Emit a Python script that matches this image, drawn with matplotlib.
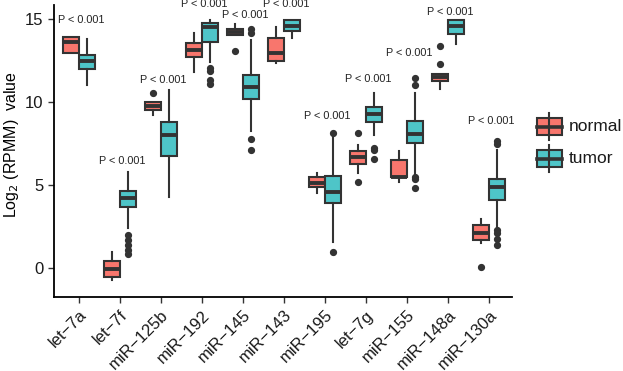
import numpy as np
import matplotlib
matplotlib.use("Agg")
from matplotlib import pyplot as plt
from matplotlib.patches import Rectangle

plt.rcParams['font.family'] = ['Liberation Sans', 'DejaVu Sans']

# categorias (miRNA)
mirnas = ['let\u22127a', 'let\u22127f', 'miR\u2212125b', 'miR\u2212192', 'miR\u2212145', 'miR\u2212143',
          'miR\u2212195', 'let\u22127g', 'miR\u2212155', 'miR\u2212148a', 'miR\u2212130a']

# grupo normal
normal_lo = [12.95, -0.70, 9.24, 11.79, 14.02, 12.35, 4.51, 5.72, 5.21, 10.78, 1.51]
normal_q1 = [12.95, -0.50, 9.54, 12.69, 14.02, 12.49, 4.91, 6.28, 5.51, 11.24, 1.67]
normal_med = [13.60, -0.06, 9.78, 13.11, 14.20, 12.95, 5.11, 6.68, 5.51, 11.51, 2.15]
normal_q3 = [13.90, 0.46, 9.98, 13.53, 14.40, 13.84, 5.51, 7.08, 6.52, 11.71, 2.63]
normal_hi = [13.90, 0.96, 9.98, 14.16, 14.72, 14.50, 5.72, 7.42, 7.08, 11.71, 2.99]
normal_out = [[], [], [10.54], [], [13.09], [], [], [8.16, 5.21], [], [13.35, 12.29], [0.10]]

# grupo tumor
tumor_lo = [11.00, 2.45, 4.28, 12.41, 8.27, 13.84, 1.60, 8.02, 5.61, 13.51, 2.39]
tumor_q1 = [12.00, 3.69, 6.73, 13.61, 10.18, 14.26, 3.91, 8.82, 7.52, 14.10, 4.12]
tumor_med = [12.50, 4.20, 8.01, 14.52, 10.90, 14.56, 4.61, 9.28, 8.08, 14.56, 4.88]
tumor_q3 = [12.85, 4.62, 8.82, 14.76, 11.65, 14.92, 5.57, 9.72, 8.86, 14.92, 5.40]
tumor_hi = [13.80, 5.82, 10.74, 14.96, 13.75, 14.92, 8.02, 10.53, 10.55, 14.92, 7.13]
tumor_out = [[], [1.99, 1.71, 1.39, 1.12, 0.88], [], [12.05, 11.85, 11.35, 11.10],
             [14.40, 14.16, 7.79, 7.13], [], [8.16, 1.00], [7.22, 7.10, 6.56],
             [11.43, 11.00, 5.51, 5.35, 4.85], [], [7.63, 7.47, 2.31, 2.11, 1.75, 1.39]]

# etiquetas de significancia
p_text = ['P < 0.001'] * 11
p_y = [14.96, 6.47, 11.35, 15.92, 15.26, 15.92, 9.14, 11.39, 12.95, 15.40, 8.84]

grupos = ['normal', 'tumor']
colores = {'normal': '#F8766D', 'tumor': '#4EC5C8'}
borde = '#333333'


def stats(lo, q1, med, q3, hi, out):
    return [dict(whislo=a, q1=b, med=c, q3=d, whishi=e, fliers=f)
            for a, b, c, d, e, f in zip(lo, q1, med, q3, hi, out)]


fig = plt.figure(figsize=(6.23, 3.71), dpi=100)
ax = fig.add_axes([54 / 623, 1 - 297 / 371, 458 / 623, 292 / 371])

x = np.arange(len(mirnas))
datos = {
    'normal': stats(normal_lo, normal_q1, normal_med, normal_q3, normal_hi, normal_out),
    'tumor': stats(tumor_lo, tumor_q1, tumor_med, tumor_q3, tumor_hi, tumor_out),
}
desp = {'normal': -0.2, 'tumor': 0.2}

for g in grupos:
    ax.bxp(datos[g], positions=x + desp[g], widths=0.39, patch_artist=True,
           showcaps=False, manage_ticks=False,
           boxprops=dict(facecolor=colores[g], edgecolor=borde, linewidth=1.5),
           medianprops=dict(color=borde, linewidth=2.8, solid_capstyle='butt'),
           whiskerprops=dict(color=borde, linewidth=1.5),
           flierprops=dict(marker='o', markerfacecolor=borde, markeredgecolor=borde,
                           markersize=4.2, linestyle='none'))

for xi, t, yi in zip(x, p_text, p_y):
    ax.text(xi + 0.05, yi, t, ha='center', va='center', fontsize=7.8, color='#222222', clip_on=False)

ax.set_xlim(-0.61, len(mirnas) - 0.44)
ax.set_ylim(-1.73, 15.84)
ax.set_yticks([0, 5, 10, 15])
ax.set_xticks(x)
ax.set_xticklabels(mirnas, rotation=45, ha='right', rotation_mode='anchor', fontsize=12, color='#1a1a1a')
ax.tick_params(axis='y', labelsize=12, labelcolor='#1a1a1a')
ax.tick_params(length=4, width=1.0, color='#333333')
ax.set_ylabel('Log$_2$ (RPMM)  value', fontsize=11.5)
ax.yaxis.set_label_coords((21 - 54) / 458, (297 - 145) / 292)
for s in ['top', 'right']:
    ax.spines[s].set_visible(False)
for s in ['left', 'bottom']:
    ax.spines[s].set_linewidth(1.3)
    ax.spines[s].set_color('black')

# leyenda dibujada a mano (cajas como en ggplot)
lax = fig.add_axes([530 / 623, 1 - 178 / 371, 40 / 623, 70 / 371])
lax.set_xlim(530, 570)
lax.set_ylim(178, 108)
lax.axis('off')
for g, yc in zip(grupos, [126.5, 158.5]):
    lax.plot([549, 549], [yc - 13.5, yc + 13.5], color=borde, lw=1.5)
    lax.add_patch(Rectangle((536.5, yc - 8.5), 25, 17, facecolor=colores[g], edgecolor=borde, lw=1.5))
    lax.plot([536.5, 561.5], [yc, yc], color=borde, lw=2.6)
    fig.text(569 / 623, 1 - yc / 371, g, fontsize=12.5, va='center', ha='left', color='#1a1a1a')

fig.savefig('out.png', dpi=100)
